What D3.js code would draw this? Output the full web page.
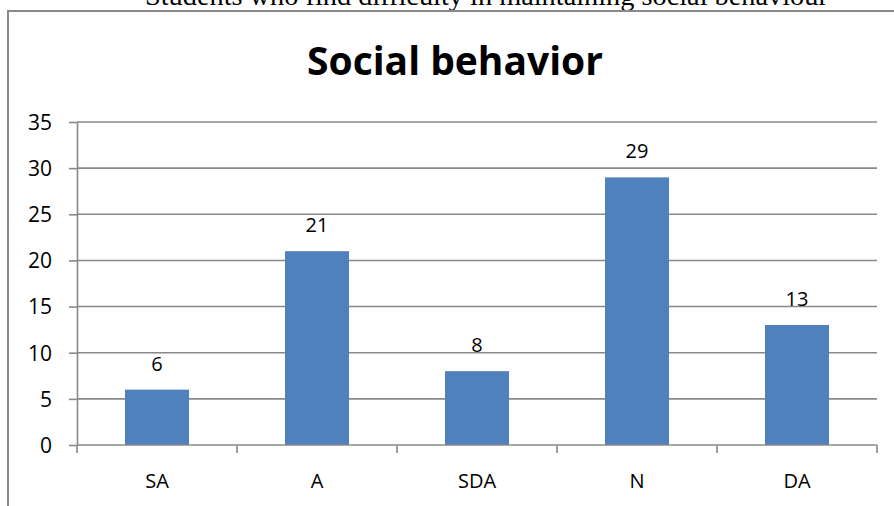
<!DOCTYPE html>
<html>
<head>
<meta charset="utf-8">
<script src="https://cdn.jsdelivr.net/npm/d3@7"></script>
<style>
  html, body { margin: 0; padding: 0; background: #fff; overflow: hidden; }
  svg { display: block; }
</style>
</head>
<body>
<svg id="chart" width="894" height="506"></svg>
<script>
const categories = ["SA", "A", "SDA", "N", "DA"];
const values = [6, 21, 8, 29, 13];
const yTicks = [0, 5, 10, 15, 20, 25, 30, 35];
const chartTitle = "Social behavior";
const captionText = "Students who find difficulty in maintaining social behaviour";

const W = 894, H = 506;
const svg = d3.select("#chart");
const font = "'Open Sans', 'DejaVu Sans', sans-serif";
const gridColor = "#898989";

// caption above chart (clipped at top)
const cap = svg.append("text")
  .attr("x", 145).attr("y", 5)
  .attr("font-family", "'Liberation Serif', 'Times New Roman', serif")
  .attr("font-size", 25)
  .attr("fill", "#000")
  .text(captionText);
{
  const w = cap.node().getComputedTextLength();
  cap.attr("font-size", 25 * 683 / w);
}

// chart border (extends past right/bottom edges)
svg.append("path")
  .attr("d", `M8,${H + 5} L8,11 L${W + 5},11`)
  .attr("fill", "none")
  .attr("stroke", gridColor)
  .attr("stroke-width", 2);

// title
const title = svg.append("text")
  .attr("x", 455).attr("y", 75)
  .attr("text-anchor", "middle")
  .attr("font-family", font)
  .attr("font-weight", "bold")
  .attr("font-size", 38)
  .attr("fill", "#000")
  .text(chartTitle);
{
  const w = title.node().getComputedTextLength();
  title.attr("font-size", 38 * 296 / w);
}

const x = d3.scaleBand().domain(categories).range([77, 877]).padding(0);
const y = d3.scaleLinear().domain([0, 35]).range([445, 122]);

// gridlines
svg.append("g")
  .selectAll("line")
  .data(yTicks.filter(d => d > 0))
  .join("line")
  .attr("x1", 77).attr("x2", 877)
  .attr("y1", d => y(d)).attr("y2", d => y(d))
  .attr("stroke", gridColor).attr("stroke-width", 1.6);

// y axis
const yAxis = svg.append("g")
  .attr("transform", "translate(77,0)")
  .call(d3.axisLeft(y).tickValues(yTicks).tickSize(8).tickPadding(17).tickSizeOuter(0));
yAxis.select(".domain").attr("stroke", gridColor).attr("stroke-width", 1.6);
yAxis.selectAll(".tick line").attr("stroke", gridColor).attr("stroke-width", 1.6);
yAxis.selectAll(".tick text")
  .attr("font-family", font).attr("font-size", 21).attr("fill", "#000")
  .attr("dy", "0.35em");

// bars
const barW = x.bandwidth() * 0.4;
svg.append("g")
  .selectAll("rect")
  .data(categories.map((c, i) => ({ c, v: values[i] })))
  .join("rect")
  .attr("x", d => x(d.c) + (x.bandwidth() - barW) / 2)
  .attr("width", barW)
  .attr("y", d => y(d.v))
  .attr("height", d => y(0) - y(d.v))
  .attr("fill", "#4F81BD");

// x axis
const xAxis = svg.append("g")
  .attr("transform", `translate(0,${y(0)})`)
  .call(d3.axisBottom(x).tickSize(0).tickPadding(0));
xAxis.select(".domain").remove();
xAxis.selectAll(".tick text").remove();
svg.append("line")
  .attr("x1", 77).attr("x2", 877).attr("y1", y(0)).attr("y2", y(0))
  .attr("stroke", gridColor).attr("stroke-width", 1.6);
// category boundary ticks
const bounds = categories.map(c => x(c)).concat([x.range()[1]]);
svg.append("g").selectAll("line").data(bounds).join("line")
  .attr("x1", d => d).attr("x2", d => d)
  .attr("y1", y(0)).attr("y2", y(0) + 8)
  .attr("stroke", gridColor).attr("stroke-width", 1.6);
// category labels
svg.append("g").selectAll("text").data(categories).join("text")
  .attr("x", d => x(d) + x.bandwidth() / 2)
  .attr("y", 488)
  .attr("text-anchor", "middle")
  .attr("font-family", font).attr("font-size", 20).attr("fill", "#000")
  .text(d => d);

// value labels
svg.append("g").selectAll("text")
  .data(categories.map((c, i) => ({ c, v: values[i] })))
  .join("text")
  .attr("x", d => x(d.c) + x.bandwidth() / 2)
  .attr("y", d => y(d.v) - 19)
  .attr("text-anchor", "middle")
  .attr("font-family", font).attr("font-size", 20).attr("fill", "#000")
  .text(d => d.v);
</script>
</body>
</html>
